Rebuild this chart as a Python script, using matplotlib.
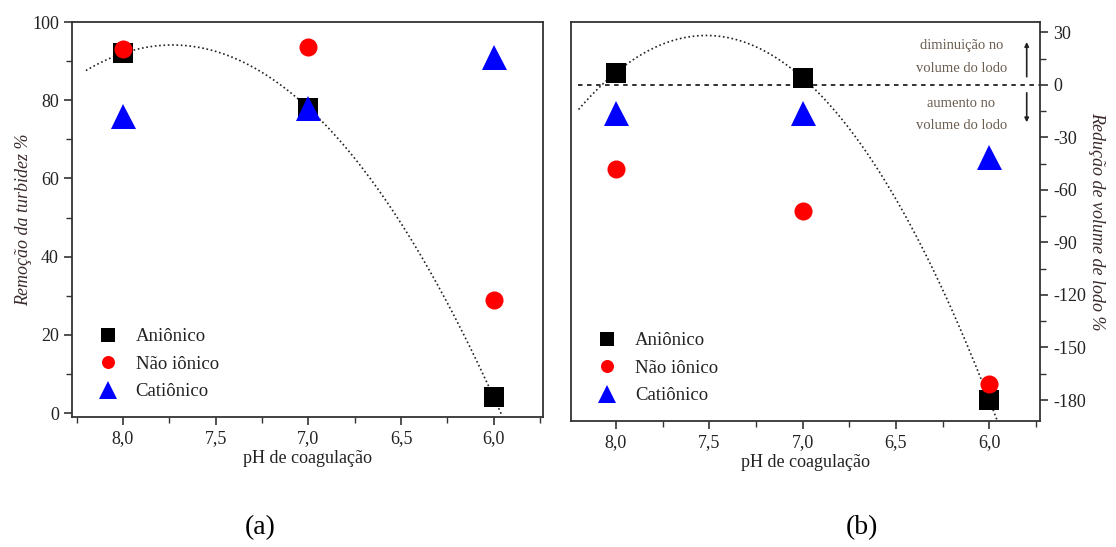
import numpy as np
import matplotlib
matplotlib.use("Agg")
import matplotlib.pyplot as plt
from matplotlib.ticker import MultipleLocator, FuncFormatter

plt.rcParams["font.family"] = ["Liberation Serif", "DejaVu Serif"]
plt.rcParams["axes.unicode_minus"] = False

ph = [8.0, 7.0, 6.0]
series = ["Aniônico", "Não iônico", "Catiônico"]

# (a) remocao da turbidez %
turb_anionico = [92, 78, 4]
turb_nao_ionico = [93, 93.5, 29]
turb_cationico = [76, 78, 91]

# (b) reducao de volume de lodo %
lodo_anionico = [7, 4, -180]
lodo_nao_ionico = [-48, -72, -171]
lodo_cationico = [-16, -16, -41]

TXT = "#222222"
styles = [dict(marker="s", color="black", ms=14.5),
          dict(marker="o", color="red", ms=13),
          dict(marker="^", color="blue", ms=18)]

comma = FuncFormatter(lambda v, p: f"{v:.1f}".replace(".", ","))


def style_axes(ax, side):
    for s in ax.spines.values():
        s.set_linewidth(1.3)
        s.set_color("#333333")
    ax.xaxis.set_major_locator(MultipleLocator(0.5))
    ax.xaxis.set_minor_locator(MultipleLocator(0.25))
    ax.xaxis.set_major_formatter(comma)
    ax.tick_params(axis="both", which="both", direction="out", colors="#333333",
                   labelcolor=TXT, labelsize=13)
    ax.tick_params(which="major", length=6, width=1.2)
    ax.tick_params(which="minor", length=4, width=1.0)
    ax.tick_params(axis="x", top=False)
    if side == "right":
        ax.yaxis.tick_right()
        ax.yaxis.set_label_position("right")


def draw(ax, ydata, fit_x):
    for y, lab, st in zip(ydata, series, styles):
        ax.plot(ph, y, linestyle="none", label=lab, marker=st["marker"],
                color=st["color"], markersize=st["ms"], markeredgewidth=0, zorder=3)
    coef = np.polyfit(ph, ydata[0], 2)
    xs = np.linspace(fit_x[0], fit_x[1], 200)
    ax.plot(xs, np.polyval(coef, xs), color="#222222", linestyle=(0, (1, 1.6)),
            lw=1.2, zorder=2)


def add_legend(ax, y0):
    ax.legend(loc="lower left", bbox_to_anchor=(0.0, y0), frameon=False,
              fontsize=13.5, markerscale=0.72, handletextpad=0.5, labelspacing=0.55,
              labelcolor=TXT)


fig = plt.figure(figsize=(11.16, 5.47), dpi=100)
ax1 = fig.add_axes([0.0645, 0.2377, 0.422, 0.722])
ax2 = fig.add_axes([0.5117, 0.2303, 0.420, 0.729])

# (a)
draw(ax1, [turb_anionico, turb_nao_ionico, turb_cationico], (8.2, 5.955))
ax1.set_xlim(8.275, 5.735)
ax1.set_ylim(-1, 100)
style_axes(ax1, "left")
ax1.yaxis.set_major_locator(MultipleLocator(20))
ax1.yaxis.set_minor_locator(MultipleLocator(10))
ax1.set_xlabel("pH de coagulação", fontsize=13, color=TXT, labelpad=2)
ax1.set_ylabel("Remoção da turbidez %", fontsize=13, color="#3a2a2a",
               style="italic", labelpad=0)
add_legend(ax1, 0.0)

# (b)
draw(ax2, [lodo_anionico, lodo_nao_ionico, lodo_cationico], (8.2, 5.96))
ax2.plot([8.205, 5.73], [0, 0], color="#222222", linestyle=(0, (2.5, 2.5)), lw=1.3)
ax2.set_xlim(8.24, 5.73)
ax2.set_ylim(-192, 35.7)
style_axes(ax2, "right")
ax2.yaxis.set_major_locator(MultipleLocator(30))
ax2.yaxis.set_minor_locator(MultipleLocator(15))
ax2.set_xlabel("pH de coagulação", fontsize=13, color=TXT, labelpad=2)
ax2.set_ylabel("Redução de volume de lodo %", fontsize=13, color="#3a2a2a",
               style="italic", rotation=-90, labelpad=14)
add_legend(ax2, 0.0)

note = "#6b5d50"
ax2.text(6.15, 22.5, "diminuição no", ha="center", va="center", fontsize=10.5, color=note)
ax2.text(6.15, 9.5, "volume do lodo", ha="center", va="center", fontsize=10.5, color=note)
ax2.text(6.15, -10.5, "aumento no", ha="center", va="center", fontsize=10.5, color=note)
ax2.text(6.15, -23, "volume do lodo", ha="center", va="center", fontsize=10.5, color=note)
ax2.annotate("", xy=(5.80, 26), xytext=(5.80, 3),
             arrowprops=dict(arrowstyle="-|>", color="#222222", lw=1.2, mutation_scale=6))
ax2.annotate("", xy=(5.80, -23), xytext=(5.80, -3),
             arrowprops=dict(arrowstyle="-|>", color="#222222", lw=1.2, mutation_scale=6))

fig.text(0.233, 0.035, "(a)", fontsize=20, ha="center", va="center", color="black")
fig.text(0.772, 0.035, "(b)", fontsize=20, ha="center", va="center", color="black")

fig.savefig("out.png", dpi=100)
